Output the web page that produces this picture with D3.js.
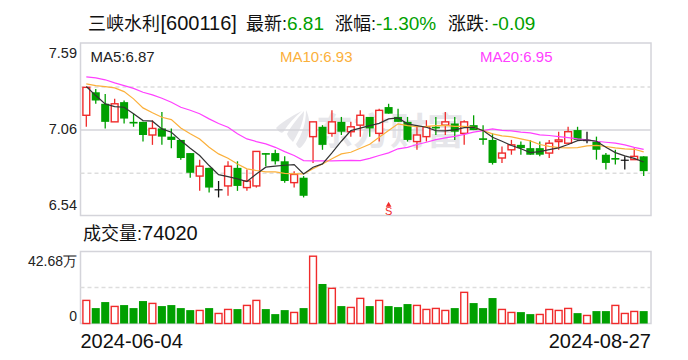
<!DOCTYPE html>
<html>
<head>
<meta charset="utf-8">
<script src="https://cdn.jsdelivr.net/npm/d3@7"></script>
<style>
  html, body { margin: 0; padding: 0; background: #fff; }
  svg { display: block; }
  text { font-family: "Liberation Sans", "Noto Sans CJK SC", sans-serif; }
</style>
</head>
<body>
<div id="chart"></div>
<script>
const priceTicks = [7.59, 7.06, 6.54]
const dateLabels = ['2024-06-04', '2024-08-27']
const volumeTicks = [42.68, 0]

const open = [7.15, 7.29, 7.22, 7.11, 7.23, 7.11, 7.11, 7.03, 7.07, 7.02, 7.00, 6.92, 6.78, 6.83, 6.70, 6.72, 6.83, 6.71, 6.72, 6.92,
  6.92, 6.87, 6.74, 6.77, 7.02, 7.08, 7.04, 7.11, 7.05, 7.09, 7.14, 7.04, 7.20, 7.14, 7.11, 6.99, 7.02, 7.08, 7.09, 7.10,
  7.04, 7.09, 7.01, 7.00, 6.89, 6.94, 6.97, 6.95, 6.95, 6.92, 6.99, 6.98, 7.06, 7.00, 6.99, 6.91, 6.89, 6.88, 6.88, 6.90]
const close = [7.32, 7.24, 7.11, 7.22, 7.13, 7.10, 7.03, 7.07, 7.02, 7.00, 6.89, 6.80, 6.84, 6.71, 6.70, 6.84, 6.72, 6.75, 6.93, 6.91,
  6.87, 6.75, 6.79, 6.66, 7.11, 6.97, 7.11, 7.05, 7.08, 7.15, 7.07, 7.18, 7.16, 7.11, 7.00, 7.03, 7.08, 7.07, 7.11, 7.05,
  7.11, 7.06, 7.00, 6.86, 6.92, 6.97, 6.95, 6.91, 6.91, 6.98, 7.00, 7.05, 7.00, 7.00, 6.94, 6.86, 6.88, 6.88, 6.90, 6.81]
const high = [7.32, 7.31, 7.28, 7.25, 7.24, 7.16, 7.11, 7.12, 7.17, 7.07, 7.00, 6.92, 6.88, 6.83, 6.75, 6.87, 6.87, 6.82, 6.93, 6.92,
  6.94, 6.90, 6.81, 6.78, 7.11, 7.09, 7.18, 7.14, 7.11, 7.18, 7.14, 7.19, 7.22, 7.19, 7.14, 7.09, 7.12, 7.14, 7.17, 7.14,
  7.12, 7.15, 7.09, 7.04, 6.96, 7.00, 6.99, 7.00, 6.99, 7.00, 7.05, 7.08, 7.08, 7.05, 7.02, 6.92, 6.94, 6.90, 6.95, 6.90]
const low = [7.08, 7.22, 7.07, 7.11, 7.10, 7.08, 6.99, 6.97, 6.97, 6.95, 6.88, 6.77, 6.69, 6.68, 6.65, 6.66, 6.69, 6.69, 6.71, 6.84,
  6.85, 6.74, 6.71, 6.65, 6.86, 6.94, 7.02, 7.03, 7.02, 7.02, 7.02, 6.99, 7.16, 7.11, 6.99, 6.94, 6.99, 7.03, 7.03, 7.00,
  6.97, 7.06, 6.97, 6.85, 6.86, 6.91, 6.91, 6.91, 6.90, 6.89, 6.94, 6.98, 7.00, 6.98, 6.88, 6.82, 6.85, 6.82, 6.88, 6.78]

const ma5 = [7.325, 7.27, 7.219, 7.203, 7.199, 7.159, 7.118, 7.114, 7.067, 7.047, 6.996, 6.949, 6.905, 6.844, 6.789, 6.777, 6.763, 6.747, 6.793, 6.834,
  6.84, 6.846, 6.85, 6.793, 6.834, 6.854, 6.921, 6.992, 7.057, 7.072, 7.087, 7.101, 7.128, 7.134, 7.098, 7.087, 7.077, 7.057, 7.055, 7.061,
  7.075, 7.077, 7.057, 7.016, 6.992, 6.966, 6.946, 6.923, 6.929, 6.941, 6.952, 6.972, 6.996, 7.00, 6.992, 6.955, 6.923, 6.903, 6.888, 6.866]
const ma10 = [7.341, 7.331, 7.325, 7.317, 7.294, 7.25, 7.195, 7.165, 7.138, 7.124, 7.073, 7.037, 7.006, 6.955, 6.915, 6.888, 6.854, 6.824, 6.814, 6.806,
  6.806, 6.797, 6.793, 6.793, 6.824, 6.854, 6.885, 6.915, 6.925, 6.949, 6.974, 7.016, 7.057, 7.098, 7.087, 7.081, 7.083, 7.087, 7.089, 7.083,
  7.083, 7.077, 7.057, 7.037, 7.025, 7.019, 7.006, 6.994, 6.972, 6.961, 6.953, 6.952, 6.953, 6.964, 6.967, 6.96, 6.952, 6.946, 6.943, 6.927]
const ma20 = [7.384, 7.378, 7.366, 7.347, 7.331, 7.314, 7.29, 7.274, 7.254, 7.229, 7.199, 7.181, 7.159, 7.128, 7.10, 7.077, 7.037, 7.006, 6.99, 6.976,
  6.955, 6.929, 6.905, 6.874, 6.872, 6.872, 6.872, 6.874, 6.876, 6.874, 6.888, 6.905, 6.921, 6.946, 6.955, 6.972, 6.986, 7.002, 7.013, 7.022,
  7.034, 7.047, 7.057, 7.067, 7.058, 7.055, 7.047, 7.043, 7.031, 7.027, 7.02, 7.014, 7.006, 7.00, 6.992, 6.986, 6.98, 6.97, 6.955, 6.943]

// unit: 万手
const volume = [14.65, 9.77, 13.59, 10.83, 11.68, 9.77, 14.23, 12.74, 11.04, 11.68, 9.77, 8.49, 8.28, 9.77, 6.37, 8.92,
  9.13, 11.47, 14.65, 9.13, 5.95, 8.49, 7.01, 9.77, 42.68, 25.06, 22.30, 11.04, 10.19, 15.93, 11.04, 14.65, 11.04, 10.40, 12.32, 11.47, 8.92, 9.56, 8.28, 9.77,
  19.75, 12.95, 9.77, 16.14, 8.92, 7.01, 7.22, 5.95, 5.73, 8.92, 8.28, 9.56, 6.58, 5.10, 7.86, 7.86, 11.47, 6.37, 7.64, 7.86]
// 1 = red hollow bar, 0 = green filled bar
const volumeUp = [1, 0, 0, 1, 0, 0, 0, 1, 0, 0, 0, 0, 1, 0, 1, 1,
  0, 1, 1, 0, 0, 0, 1, 0, 1, 0, 1, 0, 1, 1, 0, 1, 0, 0, 0, 1, 1, 1, 1, 0,
  1, 0, 0, 0, 1, 1, 0, 0, 1, 1, 1, 1, 0, 1, 0, 0, 1, 1, 1, 0]

const maLabels = ['MA5:6.87', 'MA10:6.93', 'MA20:6.95']
const exDividendIndex = 32

const width = 688
const height = 360
const red = '#f02b2b'
const green = '#00a000'
const black = '#111'
const maColors = ['#333', '#fbb03b', '#ff40ff']
const border = '#d4d4da'
const panel = {left: 80.5, right: 651, top: 43, bottom: 215.5}
const volPanel = {top: 251.5, bottom: 323.5}

const svg = d3.select('#chart').append('svg')
    .attr('width', width)
    .attr('height', height)
    .attr('viewBox', `0 0 ${width} ${height}`)

const x = d3.scaleBand()
    .domain(d3.range(close.length))
    .range([82.3, 647.7])
    .paddingInner(0.15)
    .paddingOuter(0)
const cx = i => x(i) + x.bandwidth() / 2
const y = d3.scaleLinear().domain([6.54, 7.59]).range([panel.bottom, panel.top])
const yVol = d3.scaleLinear().domain([0, 42.68]).range([volPanel.bottom, 256.2])

// header
const header = [
  ['三峡水利', 88, '#111', 18],
  ['[600116]', 160.5, '#111', 20],
  ['最新:', 246, '#111', 18],
  ['6.81', 287, green, 19],
  ['涨幅:', 335, '#111', 18],
  ['-1.30%', 376, green, 19],
  ['涨跌:', 448, '#111', 18],
  ['-0.09', 492, green, 19]
]
svg.append('g').selectAll('text').data(header).join('text')
    .attr('x', d => d[1])
    .attr('y', 29.5)
    .attr('font-size', d => d[3])
    .attr('fill', d => d[2])
    .text(d => d[0])

// watermark
const mark = svg.append('g').attr('fill', '#e6e6ea')
mark.append('path')
    .attr('d', 'M276,128 C284,120 296,114 302,111 C294,118 288,124 284,131 C282,135 278,131 276,128 Z M287,134 C292,124 300,116 304,111 C304,122 298,134 293,142 C291,140 288,137 287,134 Z M296,144 C302,134 306,124 306,110 C312,122 310,140 300,148 C298,148 297,146 296,144 Z')
mark.append('text')
    .attr('x', 316)
    .attr('y', 145)
    .attr('font-size', 37)
    .attr('font-weight', 'bold')
    .text('东方财富')

// panels
const panels = svg.append('g')
    .attr('fill', 'none')
    .attr('stroke', border)
    .attr('stroke-width', 1.5)
panels.append('rect')
    .attr('x', panel.left)
    .attr('y', panel.top)
    .attr('width', panel.right - panel.left)
    .attr('height', panel.bottom - panel.top)
panels.append('rect')
    .attr('x', panel.left)
    .attr('y', volPanel.top)
    .attr('width', panel.right - panel.left)
    .attr('height', volPanel.bottom - volPanel.top)
panels.append('line')
    .attr('x1', panel.left)
    .attr('x2', panel.right)
    .attr('y1', y(7.06))
    .attr('y2', y(7.06))
const dashes = [
  [y(7.3225), y(7.3225)],
  [y(6.7975), y(6.7975)],
  [(volPanel.top + volPanel.bottom) / 2, (volPanel.top + volPanel.bottom) / 2]
]
panels.selectAll('line.dash').data(dashes).join('line')
    .attr('class', 'dash')
    .attr('x1', panel.left)
    .attr('x2', panel.right)
    .attr('y1', d => d[0])
    .attr('y2', d => d[1])
    .attr('stroke', '#ddd')
    .attr('stroke-dasharray', '4 3')

// candles
const candles = svg.append('g').selectAll('g').data(close).join('g')
const colorOf = i => close[i] > open[i] ? red : close[i] < open[i] ? green : black

candles.append('line')
    .attr('x1', (d, i) => cx(i))
    .attr('x2', (d, i) => cx(i))
    .attr('y1', (d, i) => y(high[i]))
    .attr('y2', (d, i) => y(low[i]))
    .attr('stroke', (d, i) => colorOf(i))
    .attr('stroke-width', 1.3)

candles.append('rect')
    .attr('x', (d, i) => x(i) + (close[i] > open[i] ? 0.6 : 0))
    .attr('width', (d, i) => x.bandwidth() - (close[i] > open[i] ? 1.2 : 0))
    .attr('y', (d, i) => y(Math.max(open[i], close[i])))
    .attr('height', (d, i) => Math.max(y(Math.min(open[i], close[i])) - y(Math.max(open[i], close[i])), 1.2))
    .attr('fill', (d, i) => close[i] > open[i] ? '#fff' : colorOf(i))
    .attr('stroke', (d, i) => close[i] > open[i] ? red : 'none')
    .attr('stroke-width', 1.4)

// moving averages
const line = d3.line()
    .x((d, i) => cx(i))
    .y(d => y(d))

svg.append('g').attr('fill', 'none').selectAll('path')
    .data([ma20, ma10, ma5])
    .join('path')
    .attr('d', line)
    .attr('stroke', (d, i) => maColors[2 - i])
    .attr('stroke-width', 1.2)

svg.append('g').selectAll('text')
    .data(maLabels)
    .join('text')
    .attr('x', (d, i) => [90.5, 280, 480][i])
    .attr('y', 62)
    .attr('font-size', 15)
    .attr('fill', (d, i) => i ? maColors[i] : '#222')
    .text(d => d)

// ex-dividend marker
const marker = svg.append('g').attr('fill', red)
marker.append('path')
    .attr('d', d3.symbol(d3.symbolTriangle, 14))
    .attr('transform', `translate(${cx(exDividendIndex)},205)`)
marker.append('text')
    .attr('x', cx(exDividendIndex))
    .attr('y', 214.5)
    .attr('text-anchor', 'middle')
    .attr('font-size', 11)
    .text('S')

// volume bars
svg.append('g').selectAll('rect').data(volume).join('rect')
    .attr('x', (d, i) => x(i) + (volumeUp[i] ? 0.6 : 0))
    .attr('width', (d, i) => x.bandwidth() - (volumeUp[i] ? 1.2 : 0))
    .attr('y', d => yVol(d))
    .attr('height', d => yVol(0) - yVol(d))
    .attr('fill', (d, i) => volumeUp[i] ? '#fff' : green)
    .attr('stroke', (d, i) => volumeUp[i] ? red : 'none')
    .attr('stroke-width', 1.4)

// axes
const axisPrice = svg.append('g')
    .attr('transform', `translate(${panel.left - 3.5},0)`)
    .call(d3.axisLeft(y).tickValues(priceTicks).tickSize(0).tickPadding(0).tickFormat(d3.format('.2f')))
axisPrice.select('.domain').remove()
axisPrice.selectAll('text')
    .attr('font-size', 14.5)
    .attr('fill', '#222')
    .style('font-family', 'inherit')
    .attr('y', d => ({7.59: 10, 7.06: -1.5, 6.54: -10.5})[d])

const axisVol = svg.append('g')
    .attr('transform', `translate(${panel.left - 3.5},0)`)
    .call(d3.axisLeft(yVol).tickValues(volumeTicks).tickSize(0).tickPadding(0).tickFormat(d => d ? `${d}万` : '0'))
axisVol.select('.domain').remove()
axisVol.selectAll('text')
    .attr('font-size', 14)
    .attr('fill', '#222')
    .style('font-family', 'inherit')
    .attr('y', d => d ? 5 : -7.5)

const volLabel = svg.append('text')
    .attr('x', 83)
    .attr('y', 240)
    .attr('font-size', 18)
    .attr('fill', '#111')
volLabel.append('tspan').text('成交量:')
volLabel.append('tspan').attr('font-size', 20).text('74020')

svg.append('g').selectAll('text').data(dateLabels).join('text')
    .attr('x', (d, i) => i ? panel.right : panel.left)
    .attr('y', 348)
    .attr('text-anchor', (d, i) => i ? 'end' : 'start')
    .attr('font-size', 20)
    .attr('fill', '#111')
    .text(d => d)
</script>
</body>
</html>
